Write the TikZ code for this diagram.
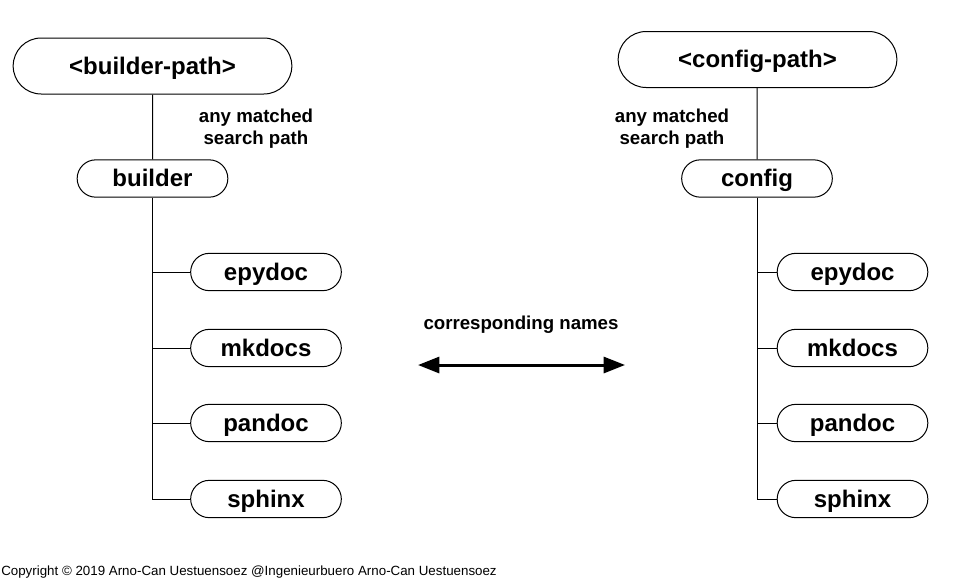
\documentclass[tikz,border=0pt]{standalone}
\usepackage{fontspec}
\setmainfont{Liberation Sans}
\usetikzlibrary{arrows.meta,positioning,shapes.misc}

\tikzset{
  pill/.style={shape=rounded rectangle,draw,line width=0.75pt,inner sep=0pt,
    text height=13pt,text depth=1pt,
    font=\fontsize{18}{20}\selectfont\bfseries},
  bigpill/.style={pill,minimum width=209pt,minimum height=42pt},
  midpill/.style={pill,minimum width=113pt,minimum height=28pt},
  twig/.style={line width=0.75pt},
  note/.style={font=\fontsize{14}{16.5}\selectfont\bfseries,align=center,inner sep=0pt}
}

\begin{document}
\begin{tikzpicture}[x=0.75pt,y=-0.75pt]

\useasboundingbox (0,0) rectangle (956,579);

% left tree
\node[bigpill] (bpath) at (152.5,66){<builder-path>};
\node[midpill] (builder) at (152.5,178.5){builder};
\node[midpill] (lepydoc) at (266,272){epydoc};
\node[midpill] (lmkdocs) at (266,348){mkdocs};
\node[midpill] (lpandoc) at (266,423){pandoc};
\node[midpill] (lsphinx) at (266,499){sphinx};
\node[note] (lsearch) at (256,128.5){any matched\\search path};
\draw[twig] (bpath) -- (builder);
\draw[twig] (builder.south) |- (lsphinx.west);
\draw[twig] (builder.south |- lepydoc.west) -- (lepydoc.west);
\draw[twig] (builder.south |- lmkdocs.west) -- (lmkdocs.west);
\draw[twig] (builder.south |- lpandoc.west) -- (lpandoc.west);

% right tree
\node[bigpill] (cpath) at (757.5,59.5){<config-path>};
\node[midpill] (config) at (757,178.5){config};
\node[midpill] (repydoc) at (852.5,272){epydoc};
\node[midpill] (rmkdocs) at (852.5,348){mkdocs};
\node[midpill] (rpandoc) at (852.5,423){pandoc};
\node[midpill] (rsphinx) at (852.5,499){sphinx};
\node[note] (rsearch) at (672,128.5){any matched\\search path};
\draw[twig] (cpath.south -| config.south) -- (config);
\draw[twig] (config.south) |- (rsphinx.west);
\draw[twig] (config.south |- repydoc.west) -- (repydoc.west);
\draw[twig] (config.south |- rmkdocs.west) -- (rmkdocs.west);
\draw[twig] (config.south |- rpandoc.west) -- (rpandoc.west);

% middle
\node[note] (names) at (521,325){corresponding names};
\coordinate (aleft) at (418,365);
\coordinate (aright) at (625,365);
\draw[line width=2.25pt,{Triangle[length=16pt,width=12pt]}-{Triangle[length=16pt,width=12pt]}] (aleft) -- (aright);

\node[anchor=base west,inner sep=0pt,font=\fontsize{10}{12}\selectfont] (copy) at (1,575)
  {Copyright © 2019 Arno-Can Uestuensoez @Ingenieurbuero Arno-Can Uestuensoez};

\end{tikzpicture}
\end{document}
